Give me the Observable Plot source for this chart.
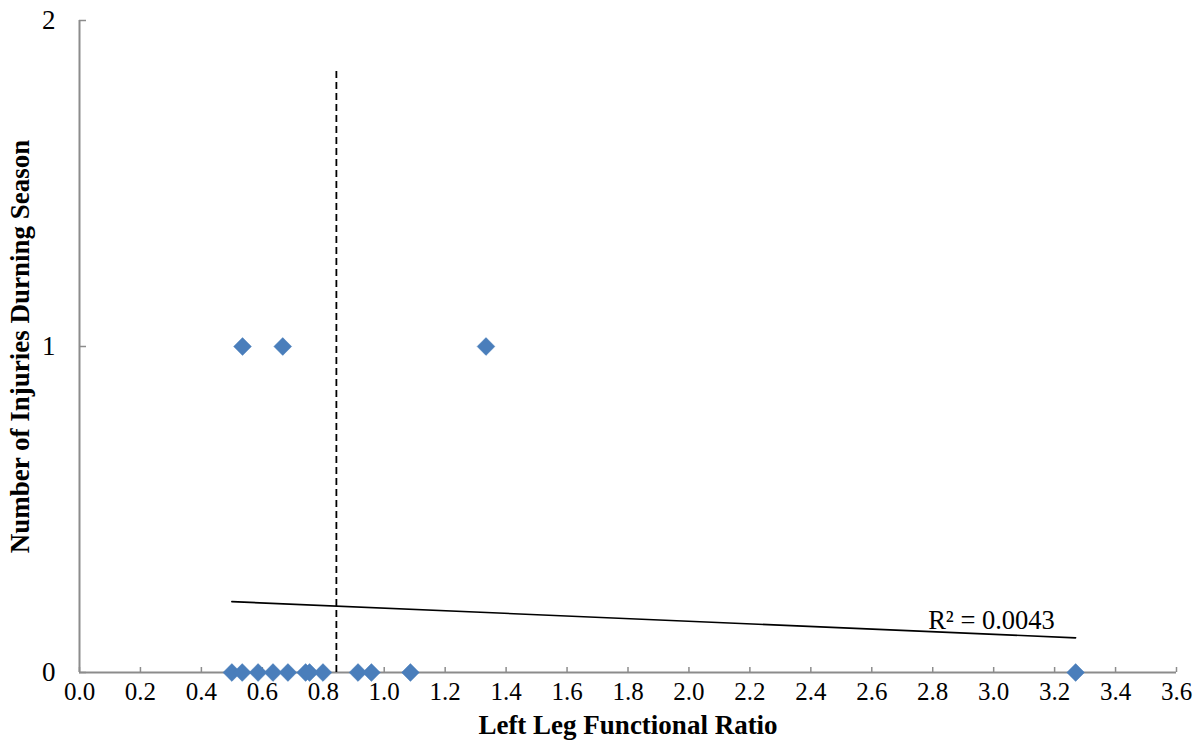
<!DOCTYPE html>
<html>
<head>
<meta charset="utf-8">
<script src="https://cdn.jsdelivr.net/npm/d3@7"></script>
<script src="https://cdn.jsdelivr.net/npm/@observablehq/plot@0.6"></script>
<style>
  body { margin: 0; background: #fff; }
  svg, svg text { font-family: "Liberation Serif", "Times New Roman", serif !important; }
</style>
</head>
<body>
<div id="chart"></div>
<script>
// Left leg functional ratio vs. number of injuries during season
const ratios   = [0.500, 0.534, 0.586, 0.635, 0.684, 0.742, 0.755, 0.799, 0.914, 0.958, 1.086, 3.269, 0.535, 0.667, 1.334];
const injuries = [0,     0,     0,     0,     0,     0,     0,     0,     0,     0,     0,     0,     1,     1,     1];
const xTicks = [0, 0.2, 0.4, 0.6, 0.8, 1.0, 1.2, 1.4, 1.6, 1.8, 2.0, 2.2, 2.4, 2.6, 2.8, 3.0, 3.2, 3.4, 3.6];
const yTicks = [0, 1, 2];
const cutoff = [{x: 0.843, y1: 0, y2: 1.856}];
const r2Label = [{x: 2.785, y: 0.158, text: "R² = 0.0043"}];
const xTitle = "Left Leg Functional Ratio";
const yTitle = "Number of Injuries Durning Season";

const data = ratios.map((r, i) => ({ratio: r, injuries: injuries[i]}));
const axisGray = "#8c8c8c";
const serif = "'Liberation Serif', 'Times New Roman', serif";

const chart = Plot.plot({
  width: 1198,
  height: 749,
  marginLeft: 79,
  marginRight: 22,
  marginTop: 20,
  marginBottom: 77,
  style: {fontFamily: serif, background: "#fff", color: "#000"},
  x: {domain: [0, 3.6]},
  y: {domain: [0, 2]},
  marks: [
    Plot.ruleY([0], {stroke: axisGray, strokeWidth: 2}),
    Plot.ruleX([0], {stroke: axisGray, strokeWidth: 2}),
    Plot.axisX(xTicks, {tickSize: -5, tickPadding: 15, stroke: axisGray, strokeWidth: 1.5, fontSize: 25, fontFamily: serif, tickFormat: d3.format(".1f"), label: null, color: "#000"}),
    Plot.axisY(yTicks, {anchor: "left", tickSize: -7, tickPadding: 31, stroke: axisGray, strokeWidth: 1.5, fontSize: 27, fontFamily: serif, tickFormat: d3.format("d"), label: null, color: "#000"}),
    Plot.ruleX(cutoff, {x: "x", y1: "y1", y2: "y2", stroke: "#000", strokeWidth: 1.8, strokeDasharray: "7,4"}),
    Plot.linearRegressionY(data, {x: "ratio", y: "injuries", ci: 0, stroke: "#000", strokeWidth: 1.6}),
    Plot.dot(data, {x: "ratio", y: "injuries", symbol: "diamond2", r: 8, fill: "#4a7ebb", stroke: "#4a7ebb", strokeWidth: 0.5}),
    Plot.text(r2Label, {x: "x", y: "y", text: "text", textAnchor: "start", fontSize: 26.5, fontFamily: serif, fill: "#000"}),
    Plot.text([xTitle], {frameAnchor: "bottom", textAnchor: "middle", dy: 61, fontSize: 27, fontWeight: "bold", fontFamily: serif, fill: "#000"}),
    Plot.text([yTitle], {frameAnchor: "left", textAnchor: "middle", dx: -59, rotate: -90, fontSize: 27, fontWeight: "bold", fontFamily: serif, fill: "#000"})
  ]
});
document.getElementById("chart").appendChild(chart);
</script>
</body>
</html>
